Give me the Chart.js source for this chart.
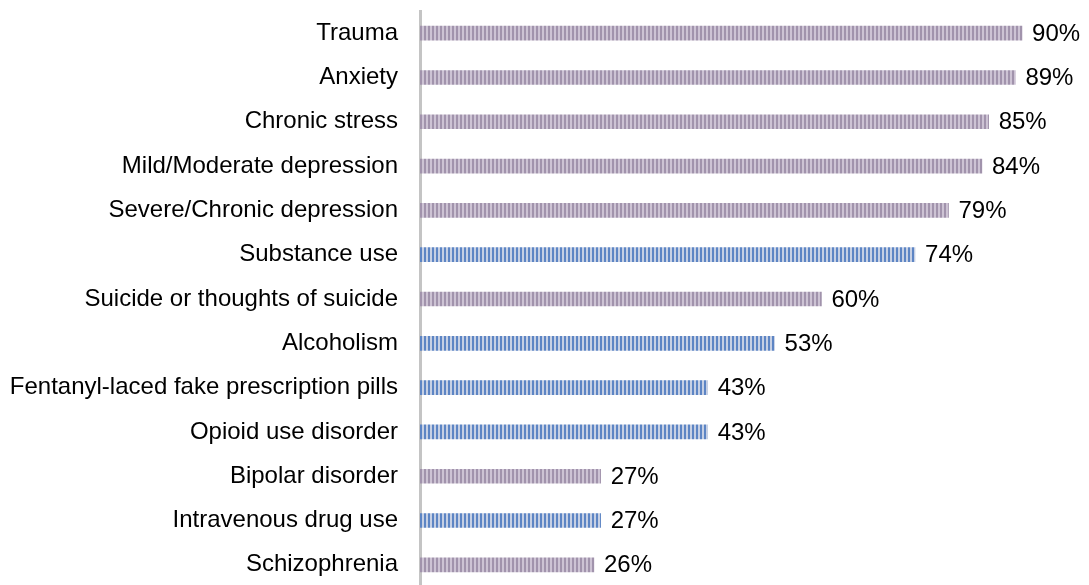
<!DOCTYPE html>
<html>
<head>
<meta charset="utf-8">
<script src="https://cdn.jsdelivr.net/npm/chart.js@4/dist/chart.umd.min.js"></script>
<style>
  html, body { margin: 0; padding: 0; background: #fff; overflow: hidden; }
  canvas { display: block; }
</style>
</head>
<body>
<canvas id="chart" width="1089" height="587" style="width:1089px;height:587px"></canvas>
<script>
// categories and values
const categories = [
    "Trauma",
    "Anxiety",
    "Chronic stress",
    "Mild/Moderate depression",
    "Severe/Chronic depression",
    "Substance use",
    "Suicide or thoughts of suicide",
    "Alcoholism",
    "Fentanyl-laced fake prescription pills",
    "Opioid use disorder",
    "Bipolar disorder",
    "Intravenous drug use",
    "Schizophrenia"
];
const values = [90, 89, 85, 84, 79, 74, 60, 53, 43, 43, 27, 27, 26];
// true = blue (substance-related) bar
const isSubstance = [false, false, false, false, false, true, false, true, true, true, false, true, false];

// vertical striped fill like the original
function makeStripes(dark, light) {
    const c = document.createElement("canvas");
    c.width = 4;
    c.height = 4;
    const g = c.getContext("2d");
    g.fillStyle = light;
    g.fillRect(0, 0, 4, 4);
    g.fillStyle = dark;
    g.fillRect(0, 0, 2, 4);
    return g.createPattern(c, "repeat");
}

const ctx = document.getElementById("chart").getContext("2d");
const purple = makeStripes("#a193ac", "#cdc3d4");
const blue = makeStripes("#5d85c4", "#c6d0e4");

const labelFont = "'Liberation Sans', Arial, sans-serif";

// draws "xx%" right after each bar
const valueLabels = {
    id: "valueLabels",
    afterDatasetsDraw(chart) {
        const c = chart.ctx;
        const meta = chart.getDatasetMeta(0);
        c.save();
        c.font = "24px " + labelFont;
        c.fillStyle = "#000";
        c.textBaseline = "middle";
        c.textAlign = "left";
        meta.data.forEach(function (bar, i) {
            c.fillText(values[i] + "%", bar.x + 10, bar.y + 1);
        });
        c.restore();
    }
};

new Chart(ctx, {
    type: "bar",
    data: {
        labels: categories,
        datasets: [
            {
                data: values,
                backgroundColor: isSubstance.map(function (s) { return s ? blue : purple; }),
                borderWidth: 0,
                barThickness: 14
            }
        ]
    },
    options: {
        responsive: false,
        indexAxis: "y",
        animation: false,
        devicePixelRatio: 1,
        layout: { padding: { top: 11, right: 0, bottom: 0, left: 0 } },
        plugins: {
            legend: { display: false },
            tooltip: { enabled: false }
        },
        scales: {
            x: {
                display: false,
                min: 0,
                max: 100
            },
            y: {
                grid: { display: false, drawTicks: false },
                border: { display: true, color: "#c4c4c4", width: 3 },
                ticks: {
                    color: "#000",
                    padding: 22,
                    font: { family: labelFont, size: 24 }
                },
                afterFit: function (scale) {
                    scale.width = 420;
                    scale.paddingTop = 0;
                    scale.paddingBottom = 0;
                }
            }
        }
    },
    plugins: [valueLabels]
});
</script>
</body>
</html>
